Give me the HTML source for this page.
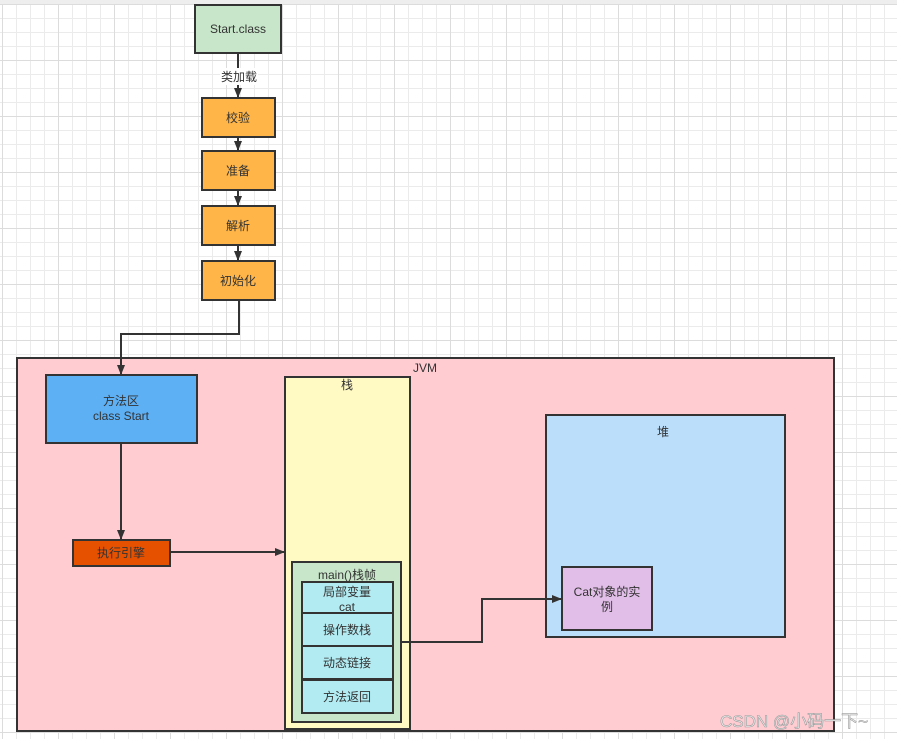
<!DOCTYPE html>
<html><head><meta charset="utf-8"><style>
body{margin:0;width:897px;height:739px;overflow:hidden;background:#fff;font-family:"Liberation Sans","Noto Sans CJK SC",sans-serif;}
</style></head><body>
<svg width="897" height="739" xmlns="http://www.w3.org/2000/svg" font-family="Liberation Sans, Noto Sans CJK SC, sans-serif" font-size="12" fill="#333">
<defs>
<pattern id="g" x="2" y="4" width="56" height="56" patternUnits="userSpaceOnUse">
<path d="M14.5 0V56M28.5 0V56M42.5 0V56M0 14.5H56M0 28.5H56M0 42.5H56" stroke="#ebebeb" stroke-width="1"/>
<path d="M0.5 0V56M0 0.5H56" stroke="#dcdcdc" stroke-width="1"/>
</pattern>
<marker id="a" markerWidth="10" markerHeight="10" refX="9" refY="5" orient="auto" markerUnits="userSpaceOnUse"><path d="M0 1L10 5L0 9Z" fill="#333"/></marker>
</defs>
<rect width="897" height="739" fill="url(#g)"/>
<rect width="897" height="4" fill="#eee"/>
<g stroke="#333" stroke-width="2">
<rect x="195" y="5" width="86" height="48" fill="#c8e6c9"/>
<rect x="202" y="98" width="73" height="39" fill="#ffb547"/>
<rect x="202" y="151" width="73" height="39" fill="#ffb547"/>
<rect x="202" y="206" width="73" height="39" fill="#ffb547"/>
<rect x="202" y="261" width="73" height="39" fill="#ffb547"/>
<rect x="17" y="358" width="817" height="373" fill="#ffccd2"/>
<rect x="46" y="375" width="151" height="68" fill="#5eb0f5"/>
<rect x="73" y="540" width="97" height="26" fill="#e65100"/>
<rect x="285" y="377" width="125" height="352" fill="#fff9c4"/>
<rect x="292" y="562" width="109" height="160" fill="#c8e6c9"/>
<rect x="302" y="582" width="91" height="31" fill="#b2ebf2"/>
<rect x="302" y="613" width="91" height="33" fill="#b2ebf2"/>
<rect x="302" y="646" width="91" height="33" fill="#b2ebf2"/>
<rect x="302" y="680" width="91" height="33" fill="#b2ebf2"/>
<rect x="546" y="415" width="239" height="222" fill="#bbdefb"/>
<rect x="562" y="567" width="90" height="63" fill="#e1bee7"/>
<g fill="none" marker-end="url(#a)">
<path d="M238 53V97"/>
<path d="M238 137V150"/>
<path d="M238 190V205"/>
<path d="M238 245V260"/>
<path d="M239 300V334H121V374"/>
<path d="M121 443V539"/>
<path d="M170 552H284"/>
<path d="M401 642H482V599H561"/>
</g>
</g>
<rect x="220" y="68" width="38" height="17" fill="#fff"/>
<g text-anchor="middle">
<text x="238" y="33">Start.class</text>
<text x="239" y="81">类加载</text>
<text x="238" y="122">校验</text>
<text x="238" y="175">准备</text>
<text x="238" y="230">解析</text>
<text x="238" y="285">初始化</text>
<text x="425" y="372">JVM</text>
<text x="121" y="405">方法区</text>
<text x="121" y="420">class Start</text>
<text x="121" y="557">执行引擎</text>
<text x="347" y="389">栈</text>
<text x="347" y="579">main()栈帧</text>
<text x="347" y="596">局部变量</text>
<text x="347" y="611">cat</text>
<text x="347" y="634">操作数栈</text>
<text x="347" y="667">动态链接</text>
<text x="347" y="701">方法返回</text>
<text x="663" y="436">堆</text>
<text x="607" y="596">Cat对象的实</text>
<text x="607" y="611">例</text>
</g>
<text x="720" y="727" font-size="17" fill="#eee" stroke="#999" stroke-width="0.6">CSDN @小码一下~</text>
</svg>
</body></html>
